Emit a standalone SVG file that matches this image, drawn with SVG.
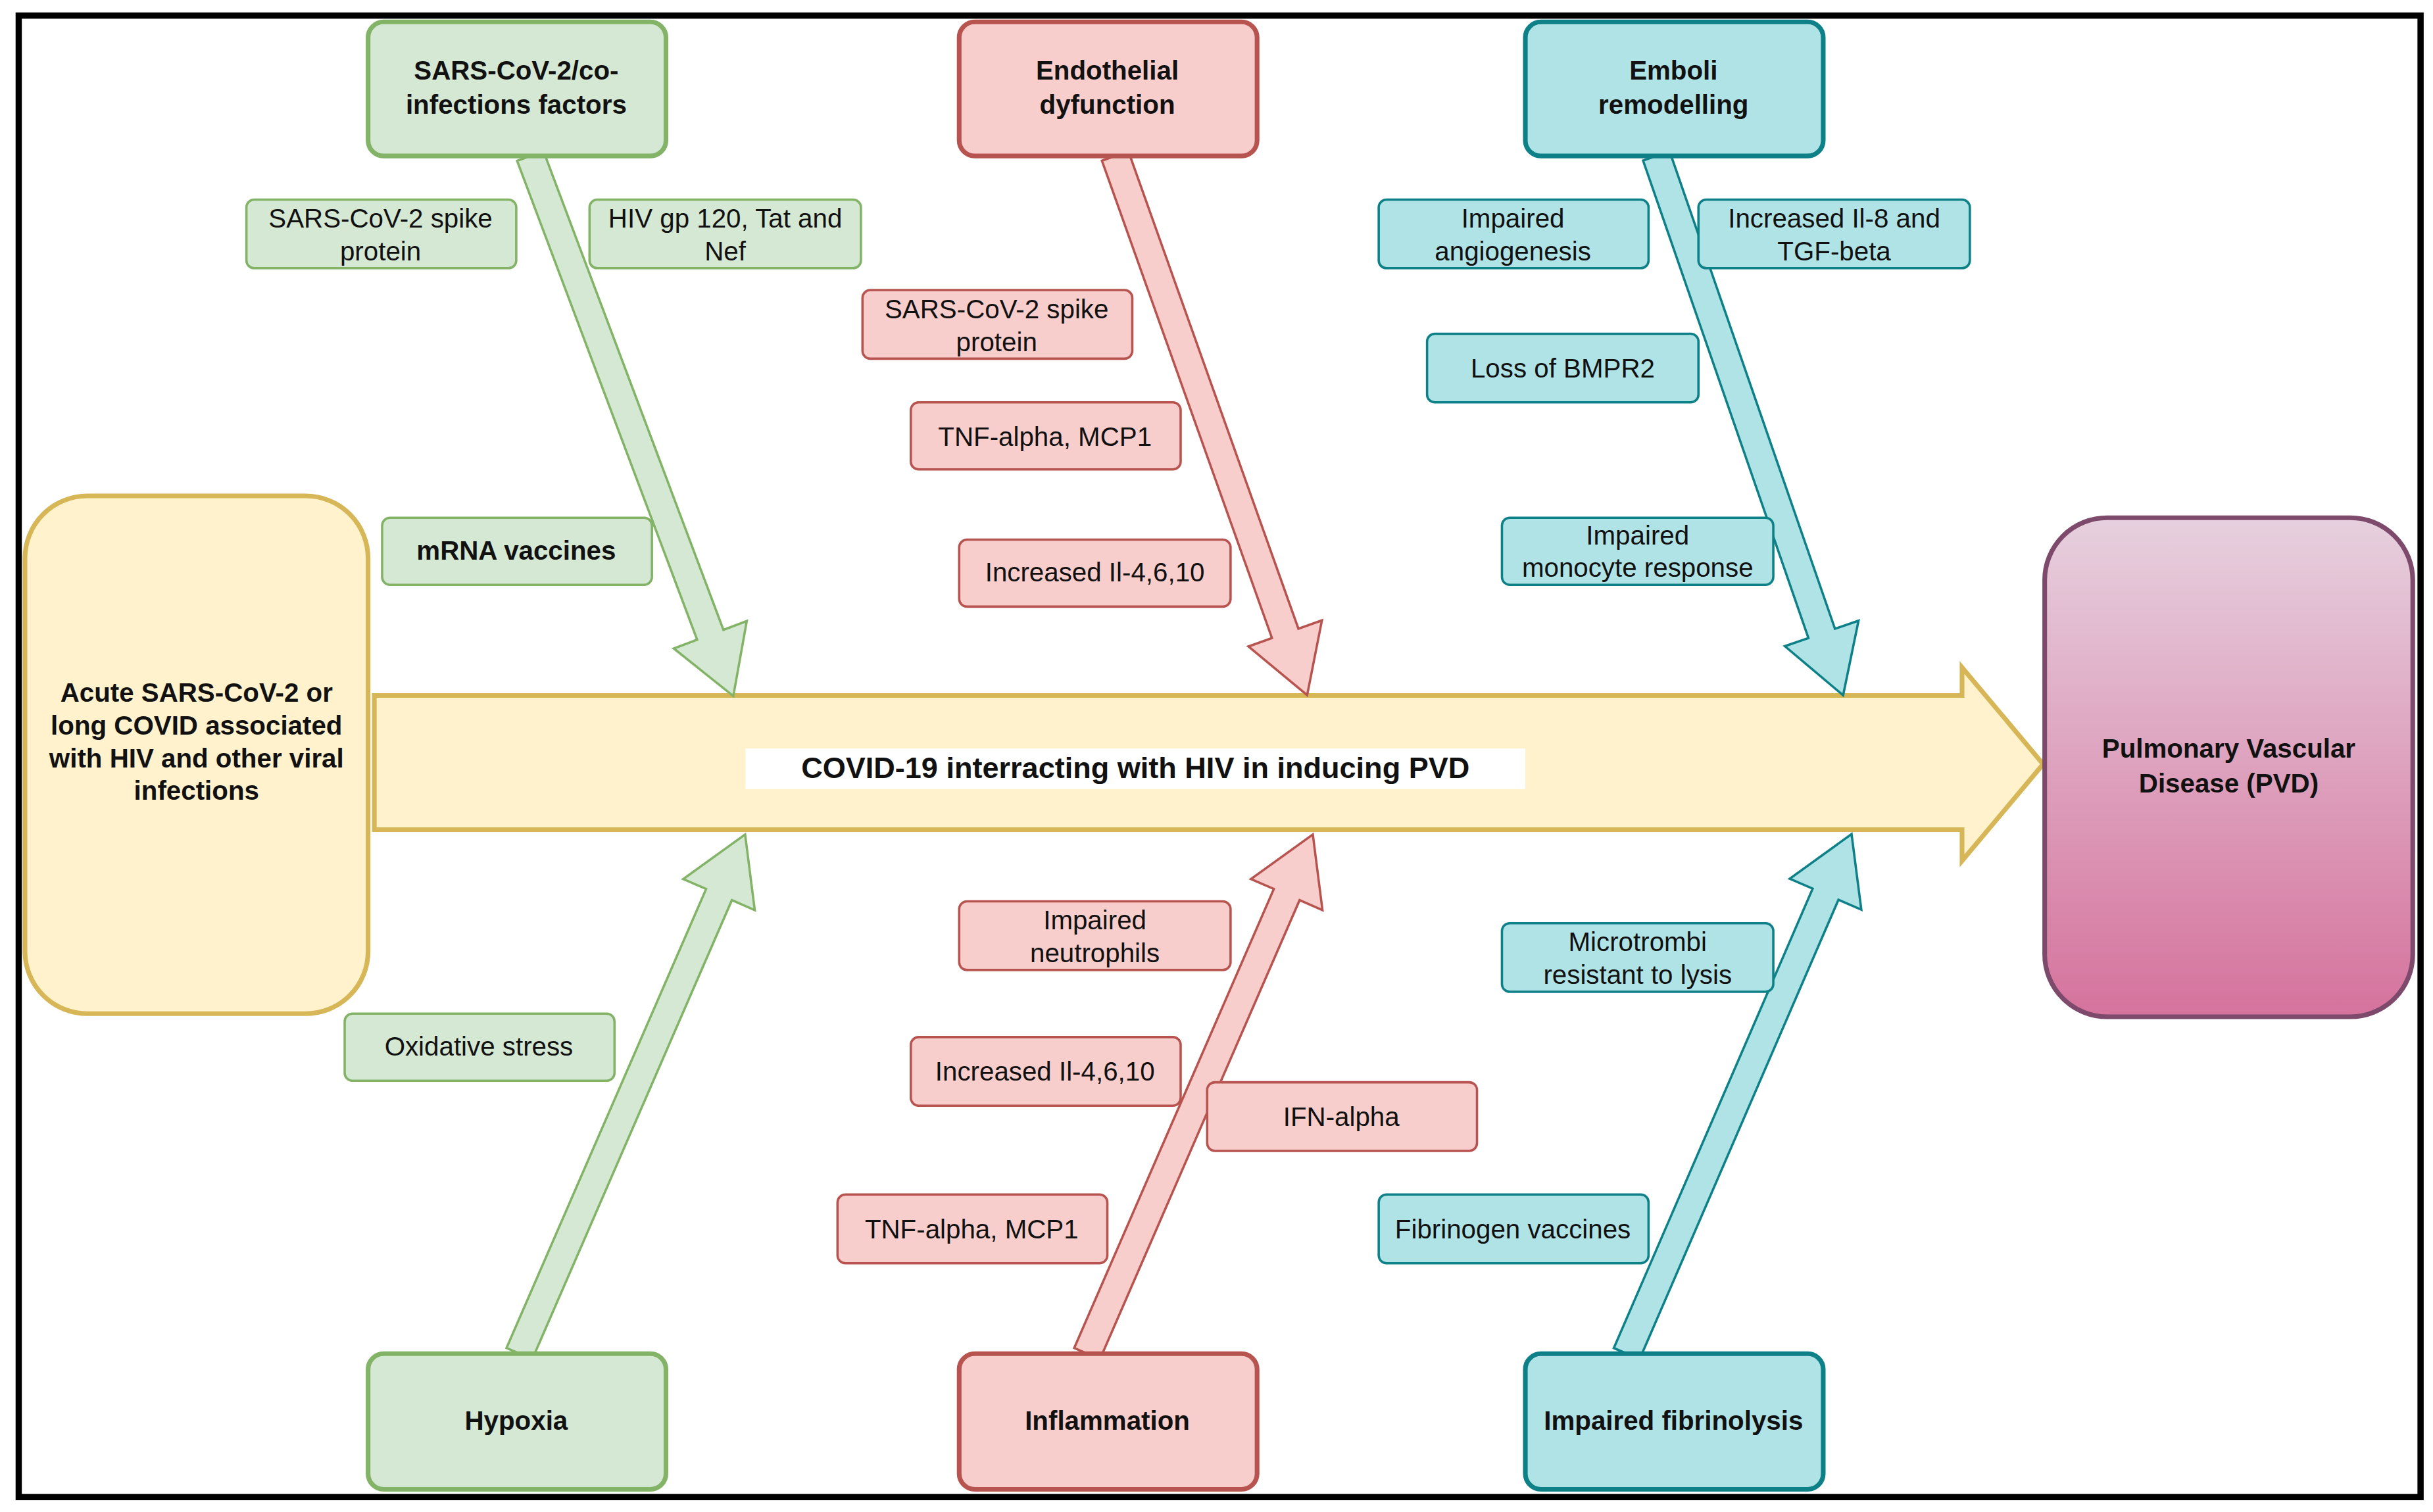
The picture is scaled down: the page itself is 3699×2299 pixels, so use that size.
<svg xmlns="http://www.w3.org/2000/svg" width="3699" height="2299" viewBox="0 0 3699 2299">
<defs>
<linearGradient id="pg" x1="0" y1="0" x2="0" y2="1"><stop offset="0" stop-color="#e6d0de"/><stop offset="1" stop-color="#d5739d"/></linearGradient>
<style>
text{font-family:"Liberation Sans",Arial,sans-serif;fill:#111;text-anchor:middle}
.b{font-weight:bold;font-size:17px}
.l{font-size:17px}
.g{fill:#d5e8d4;stroke:#82b366}
.r{fill:#f8cecc;stroke:#b85450}
.t{fill:#b0e3e6;stroke:#0e8088}
.big{stroke-width:3}
.sm{stroke-width:1.5}
.ar{stroke-width:1.5}
</style>
</defs>
<rect x="0" y="0" width="3699" height="2299" fill="#fff"/>
<g transform="scale(2.3712)">
<rect x="12" y="10" width="1540" height="950" fill="none" stroke="#000" stroke-width="4"/>
<g id="main-arrow"><path d="M240,446 L1258,446 L1258,428 L1310,490 L1258,552 L1258,532 L240,532 Z" fill="#fff2cc" stroke="#d6b656" stroke-width="3"/>
<rect x="478" y="480" width="500" height="26" fill="#fff"/>
<text class="b" x="728" y="499" style="font-size:19px">COVID-19 interracting with HIV in inducing PVD</text></g>
<g id="connectors">
<path class="g ar" transform="translate(340,100) rotate(69.4)" d="M0,-9 L328,-9 L328,-25 L370,0 L328,25 L328,9 L0,9 Z"/>
<path class="r ar" transform="translate(715,100) rotate(70.4)" d="M0,-9 L325,-9 L325,-25 L367,0 L325,25 L325,9 L0,9 Z"/>
<path class="t ar" transform="translate(1062,100) rotate(70.9)" d="M0,-9 L324,-9 L324,-25 L366,0 L324,25 L324,9 L0,9 Z"/>
<path class="g ar" transform="translate(333,868) rotate(-66.5)" d="M0,-9 L321,-9 L321,-25 L363,0 L321,25 L321,9 L0,9 Z"/>
<path class="r ar" transform="translate(697,868) rotate(-66.5)" d="M0,-9 L321,-9 L321,-25 L363,0 L321,25 L321,9 L0,9 Z"/>
<path class="t ar" transform="translate(1043,868) rotate(-66.6)" d="M0,-9 L321,-9 L321,-25 L363,0 L321,25 L321,9 L0,9 Z"/>
</g>
<g id="source"><rect x="16" y="318" width="220" height="332" rx="40" fill="#fff2cc" stroke="#d6b656" stroke-width="3"/>
<text class="b"><tspan x="126" y="450">Acute SARS-CoV-2 or</tspan><tspan x="126" y="471">long COVID associated</tspan><tspan x="126" y="492">with HIV and other viral</tspan><tspan x="126" y="513">infections</tspan></text></g>
<g id="pvd"><rect x="1311" y="332" width="236" height="320" rx="40" fill="url(#pg)" stroke="#7d4a6c" stroke-width="3"/>
<text class="b"><tspan x="1429" y="486">Pulmonary Vascular</tspan><tspan x="1429" y="508">Disease (PVD)</tspan></text></g>
<g id="n-sars"><rect class="g big" x="236" y="14" width="191" height="86" rx="10"/><text class="b"><tspan x="331" y="51">SARS-CoV-2/co-</tspan><tspan x="331" y="73">infections factors</tspan></text></g>
<g id="n-endo"><rect class="r big" x="615" y="14" width="191" height="86" rx="10"/><text class="b"><tspan x="710" y="51">Endothelial</tspan><tspan x="710" y="73">dyfunction</tspan></text></g>
<g id="n-emboli"><rect class="t big" x="978" y="14" width="191" height="86" rx="10"/><text class="b"><tspan x="1073" y="51">Emboli</tspan><tspan x="1073" y="73">remodelling</tspan></text></g>
<g id="n-hypoxia"><rect class="g big" x="236" y="868" width="191" height="87" rx="10"/><text class="b" x="331" y="917">Hypoxia</text></g>
<g id="n-inflam"><rect class="r big" x="615" y="868" width="191" height="87" rx="10"/><text class="b" x="710" y="917">Inflammation</text></g>
<g id="n-fibrin"><rect class="t big" x="978" y="868" width="191" height="87" rx="10"/><text class="b" x="1073" y="917">Impaired fibrinolysis</text></g>
<g id="l1"><rect class="g sm" x="158" y="128" width="173" height="44" rx="5"/><text class="l"><tspan x="244" y="146">SARS-CoV-2 spike</tspan><tspan x="244" y="167">protein</tspan></text></g>
<g id="l2"><rect class="g sm" x="378" y="128" width="174" height="44" rx="5"/><text class="l"><tspan x="465" y="146">HIV gp 120, Tat and</tspan><tspan x="465" y="167">Nef</tspan></text></g>
<g id="l3"><rect class="g sm" x="245" y="332" width="173" height="43" rx="5"/><text class="b" x="331" y="359">mRNA vaccines</text></g>
<g id="l4"><rect class="g sm" x="221" y="650" width="173" height="43" rx="5"/><text class="l" x="307" y="677">Oxidative stress</text></g>
<g id="l5"><rect class="r sm" x="553" y="186" width="173" height="44" rx="5"/><text class="l"><tspan x="639" y="204">SARS-CoV-2 spike</tspan><tspan x="639" y="225">protein</tspan></text></g>
<g id="l6"><rect class="r sm" x="584" y="258" width="173" height="43" rx="5"/><text class="l" x="670" y="286">TNF-alpha, MCP1</text></g>
<g id="l7"><rect class="r sm" x="615" y="346" width="174" height="43" rx="5"/><text class="l" x="702" y="373">Increased Il-4,6,10</text></g>
<g id="l8"><rect class="r sm" x="615" y="578" width="174" height="44" rx="5"/><text class="l"><tspan x="702" y="596">Impaired</tspan><tspan x="702" y="617">neutrophils</tspan></text></g>
<g id="l9"><rect class="r sm" x="584" y="665" width="173" height="44" rx="5"/><text class="l" x="670" y="693">Increased Il-4,6,10</text></g>
<g id="l10"><rect class="r sm" x="774" y="694" width="173" height="44" rx="5"/><text class="l" x="860" y="722">IFN-alpha</text></g>
<g id="l11"><rect class="r sm" x="537" y="766" width="173" height="44" rx="5"/><text class="l" x="623" y="794">TNF-alpha, MCP1</text></g>
<g id="l12"><rect class="t sm" x="884" y="128" width="173" height="44" rx="5"/><text class="l"><tspan x="970" y="146">Impaired</tspan><tspan x="970" y="167">angiogenesis</tspan></text></g>
<g id="l13"><rect class="t sm" x="1089" y="128" width="174" height="44" rx="5"/><text class="l"><tspan x="1176" y="146">Increased Il-8 and</tspan><tspan x="1176" y="167">TGF-beta</tspan></text></g>
<g id="l14"><rect class="t sm" x="915" y="214" width="174" height="44" rx="5"/><text class="l" x="1002" y="242">Loss of BMPR2</text></g>
<g id="l15"><rect class="t sm" x="963" y="332" width="174" height="43" rx="5"/><text class="l"><tspan x="1050" y="349">Impaired</tspan><tspan x="1050" y="370">monocyte response</tspan></text></g>
<g id="l16"><rect class="t sm" x="963" y="592" width="174" height="44" rx="5"/><text class="l"><tspan x="1050" y="610">Microtrombi</tspan><tspan x="1050" y="631">resistant to lysis</tspan></text></g>
<g id="l17"><rect class="t sm" x="884" y="766" width="173" height="44" rx="5"/><text class="l" x="970" y="794">Fibrinogen vaccines</text></g>
</g>
</svg>
